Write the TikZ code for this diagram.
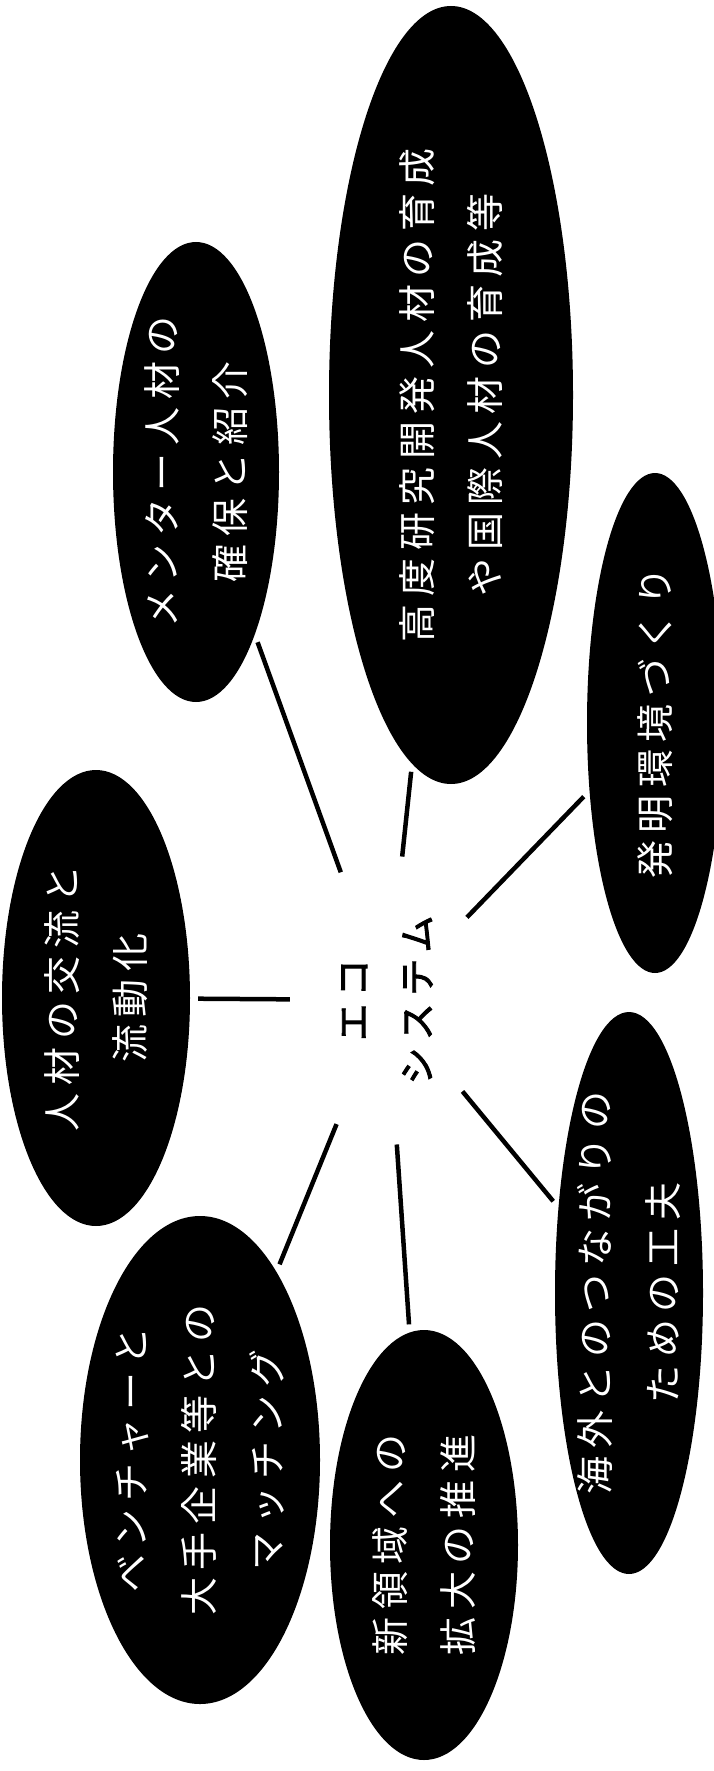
\documentclass[tikz,border=0pt]{standalone}
\usepackage{fontspec}
\setmainfont{Noto Sans CJK JP}[LetterSpace=20]
\newfontfamily\hubfont{Noto Sans CJK JP}[LetterSpace=20,FakeBold=2.5]
\usetikzlibrary{shapes.geometric}
\begin{document}
\begin{tikzpicture}[x=1pt,y=-1pt,
  blob/.style={ellipse, fill=black, draw=none, inner sep=0pt, rotate=90},
  lbl/.style={text=white, align=center, rotate=90, inner sep=0pt,
              font=\fontsize{38}{68}\selectfont},
  hub/.style={ellipse, draw=none, rotate=90, inner sep=0pt, align=center,
              minimum width=290pt, minimum height=194pt,
              font=\hubfont\fontsize{37}{64}\selectfont},
  link/.style={line width=4.5pt, shorten <=8pt}]
\useasboundingbox (0,0) rectangle (713,1771);

\node[hub] (eco) at (387,1000) {エコ\\システム};

\node[blob, minimum width=460pt, minimum height=166pt] (e1) at (196,472) {};
\node[lbl] (t1) at (e1.center) {メンター人材の\\確保と紹介};

\node[blob, minimum width=778pt, minimum height=244pt] (e2) at (451,395) {};
\node[lbl] (t2) at (e2.center) {高度研究開発人材の育成\\や国際人材の育成等};

\node[blob, minimum width=500pt, minimum height=136pt] (e3) at (655,723) {};
\node[lbl] (t3) at (e3.center) {発明環境づくり};

\node[blob, minimum width=456pt, minimum height=188pt] (e4) at (96,998) {};
\node[lbl] (t4) at (e4.center) {人材の交流と\\流動化};

\node[blob, minimum width=488pt, minimum height=240pt] (e5) at (200,1460) {};
\node[lbl] (t5) at (e5.center) {ベンチャーと\\大手企業等との\\マッチング};

\node[blob, minimum width=430pt, minimum height=188pt] (e6) at (424,1545) {};
\node[lbl] (t6) at (e6.center) {新領域への\\拡大の推進};

\node[blob, minimum width=562pt, minimum height=148pt] (e7) at (629,1293) {};
\node[lbl] (t7) at (e7.center) {海外とのつながりの\\ための工夫};

\foreach \e in {e1,e2,e3,e4,e5,e6,e7}
  \draw[link] (\e) -- (eco);
\end{tikzpicture}
\end{document}
